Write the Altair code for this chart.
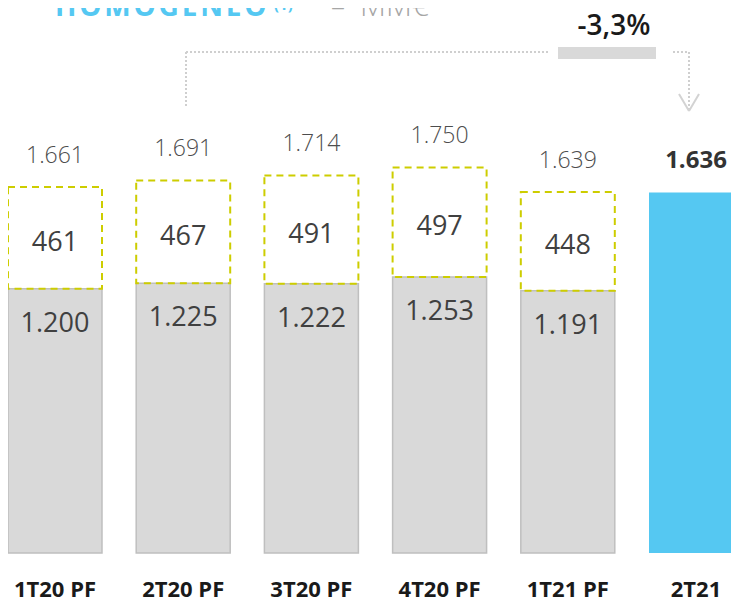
import altair as alt
import pandas as pd

# ---- data ----
categories = ["1T20 PF", "2T20 PF", "3T20 PF", "4T20 PF", "1T21 PF", "2T21"]
base_values = [1200, 1225, 1222, 1253, 1191]
extra_values = [461, 467, 491, 497, 448]
pf_totals = [1661, 1691, 1714, 1750, 1639]
current_value = 1636
change_label = "-3,3%"
title_main = "HOMOGENEO"
title_note = "(1)"
title_unit = "MM€"


def fmt(v):
    return f"{v:,}".replace(",", ".")


pf = pd.DataFrame({
    "cat": categories[:5],
    "base": base_values,
    "extra": extra_values,
    "total": pf_totals,
})
pf["mid"] = pf["base"] + pf["extra"] / 2
pf["base_lbl"] = pf["base"].map(fmt)
pf["extra_lbl"] = pf["extra"].map(fmt)
pf["total_lbl"] = pf["total"].map(fmt)

cur = pd.DataFrame({"cat": [categories[5]], "total": [current_value],
                    "lbl": [fmt(current_value)]})
cats = pd.DataFrame({"cat": categories})
one = pd.DataFrame({"k": [0]})

FONT = "Open Sans"
YMAX = 2474

xenc = alt.X("cat:N", sort=categories,
             scale=alt.Scale(domain=categories, paddingInner=0.2668, paddingOuter=0,
                             range=[0, 735]),
             axis=None)


def yenc(field):
    return alt.Y(f"{field}:Q", scale=alt.Scale(domain=[0, YMAX]), axis=None)


gray = alt.Chart(pf).mark_bar(fill="#D9D9D9", stroke="#BFBFBF", strokeWidth=1.5).encode(
    x=xenc, y=yenc("base"))

dashed = alt.Chart(pf).mark_bar(fill="white", fillOpacity=0, stroke="#CDCD00",
                                strokeWidth=2, strokeDash=[7, 5]).encode(
    x=xenc, y=yenc("base"), y2="total:Q")

blue = alt.Chart(cur).mark_bar(fill="#55C8F2").encode(x=xenc, y=yenc("total"))

t_total = alt.Chart(pf).mark_text(font=FONT, fontSize=23, fontWeight=300, color="#4D4D4D",
                                  baseline="alphabetic", dy=-24).encode(
    x=xenc, y=yenc("total"), text="total_lbl:N")

t_extra = alt.Chart(pf).mark_text(font=FONT, fontSize=27, color="#404040",
                                  baseline="alphabetic", dy=13).encode(
    x=xenc, y=yenc("mid"), text="extra_lbl:N")

t_base = alt.Chart(pf).mark_text(font=FONT, fontSize=27, color="#404040",
                                 baseline="alphabetic", dy=43).encode(
    x=xenc, y=yenc("base"), text="base_lbl:N")

t_cur = alt.Chart(cur).mark_text(font=FONT, fontSize=24, fontWeight="bold", color="#333333",
                                 baseline="alphabetic", dy=-25).encode(
    x=xenc, y=yenc("total"), text="lbl:N")

t_cat = alt.Chart(cats).mark_text(font=FONT, fontSize=22, fontWeight="bold", color="#1A1A1A",
                                  baseline="alphabetic").encode(
    x=xenc, y=alt.value(589), text="cat:N")

# ---- title (partly cut at top) ----
spaced_title = "\u200a".join(title_main)
title1 = alt.Chart(one).mark_text(text=spaced_title, font=FONT, fontSize=28, fontWeight="bold",
                                  color="#55C8F2", align="left", baseline="alphabetic").encode(
    x=alt.value(47), y=alt.value(8))
title2 = alt.Chart(one).mark_text(text=title_note, font=FONT, fontSize=15, fontWeight="bold",
                                  color="#55C8F2", align="left", baseline="alphabetic").encode(
    x=alt.value(266), y=alt.value(2))
title3 = alt.Chart(one).mark_text(text="–", font=FONT, fontSize=28, fontWeight=300,
                                  color="#A6A6A6", align="center", baseline="alphabetic").encode(
    x=alt.value(330), y=alt.value(8))
title4 = alt.Chart(one).mark_text(text=title_unit, font=FONT, fontSize=30, fontWeight=300,
                                  color="#A6A6A6", align="left", baseline="alphabetic").encode(
    x=alt.value(352), y=alt.value(8))

# ---- change annotation ----
chg = alt.Chart(one).mark_text(text=change_label, font=FONT, fontSize=28, fontWeight=600,
                               color="#1A1A1A", align="center", baseline="alphabetic").encode(
    x=alt.value(606), y=alt.value(27))
chg_rect = alt.Chart(one).mark_rect(fill="#D9D9D9").encode(
    x=alt.value(550), x2=alt.value(648), y=alt.value(39), y2=alt.value(51))

DOT = dict(color="#CFCFCF", strokeWidth=2, strokeDash=[2, 2])
l_v = alt.Chart(one).mark_rule(**DOT).encode(x=alt.value(178), y=alt.value(44), y2=alt.value(99))
l_h = alt.Chart(one).mark_rule(**DOT).encode(x=alt.value(178), x2=alt.value(540), y=alt.value(44))
r_h = alt.Chart(one).mark_rule(**DOT).encode(x=alt.value(665), x2=alt.value(681), y=alt.value(44))
r_v = alt.Chart(one).mark_rule(**DOT).encode(x=alt.value(681), y=alt.value(44), y2=alt.value(102))
ARR = dict(color="#D3D3D3", strokeWidth=2)
a1 = alt.Chart(one).mark_rule(**ARR).encode(x=alt.value(671), x2=alt.value(681),
                                            y=alt.value(86), y2=alt.value(103))
a2 = alt.Chart(one).mark_rule(**ARR).encode(x=alt.value(691), x2=alt.value(681),
                                            y=alt.value(86), y2=alt.value(103))

chart = alt.layer(
    gray, dashed, blue, t_total, t_extra, t_base, t_cur, t_cat,
    title1, title2, title3, title4, chg, chg_rect, l_v, l_h, r_h, r_v, a1, a2
).properties(
    width=723, height=545,
    autosize=alt.AutoSizeParams(type="none"),
    padding={"left": 0, "right": 0, "top": 0, "bottom": 46},
    background="white",
).configure_view(strokeWidth=0)

chart.save("out.html", embed_options={"renderer": "svg", "actions": False})
